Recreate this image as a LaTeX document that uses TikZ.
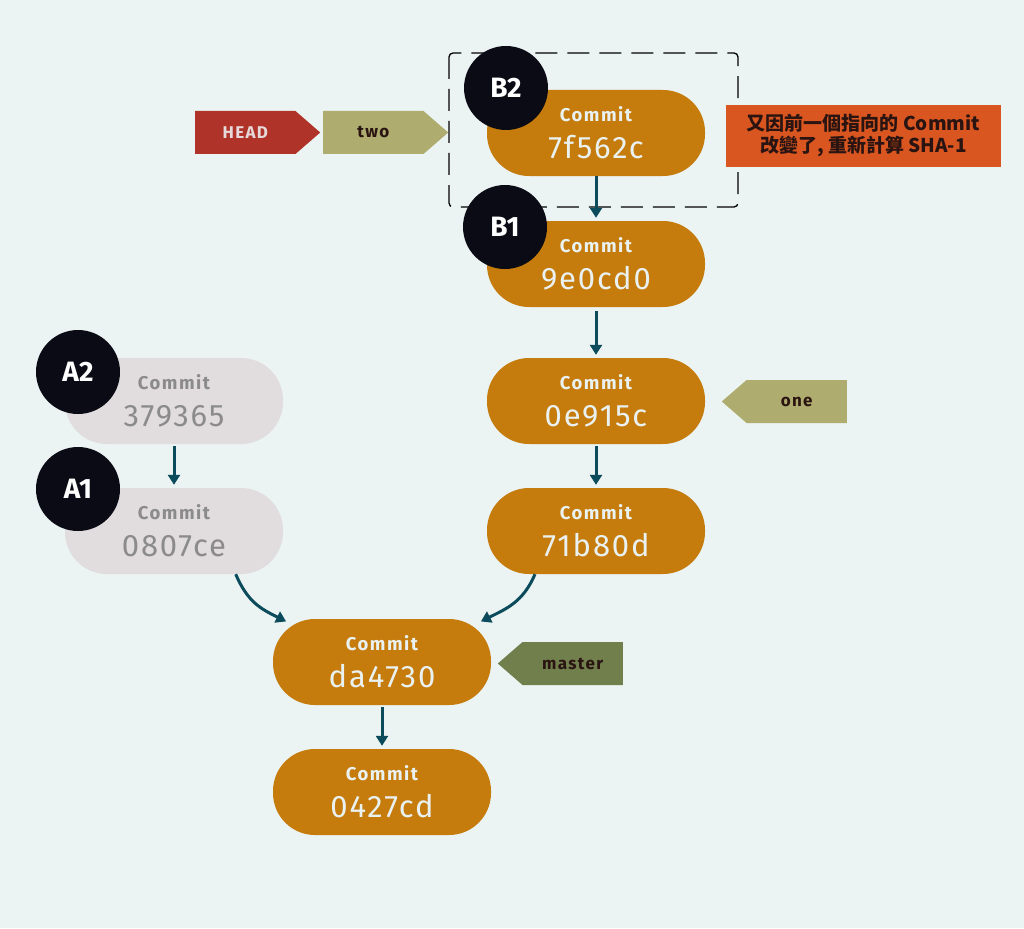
\documentclass[tikz,border=0pt]{standalone}
\usepackage{fontspec}
\setmainfont{Fira Sans}
\newfontfamily\cjk{Noto Sans CJK TC}
\newfontfamily\spaced[LetterSpace=8]{Fira Sans}
\newfontfamily\hashfamily[LetterSpace=6]{Fira Sans}
\usepackage{tikz}
\usetikzlibrary{positioning,shapes.symbols,arrows.meta}
\definecolor{PaperBg}{HTML}{EBF4F3}
\definecolor{CommitOrange}{HTML}{C57C0D}
\definecolor{CommitText}{HTML}{EAF1F1}
\definecolor{GhostFill}{HTML}{E1DCDE}
\definecolor{GhostText}{HTML}{8B8B8B}
\definecolor{BadgeBlack}{HTML}{0A0B14}
\definecolor{LinkTeal}{HTML}{0B4B5B}
\definecolor{HeadRed}{HTML}{B0332A}
\definecolor{HeadText}{HTML}{E6D9D9}
\definecolor{BranchOlive}{HTML}{AEAC6E}
\definecolor{MasterGreen}{HTML}{717F4D}
\definecolor{NoteOrange}{HTML}{D95621}
\definecolor{InkBrown}{HTML}{2A1411}
\newcommand{\commitline}[1]{{\spaced\bfseries\fontsize{18.5}{37}\selectfont Commit}\\{\hashfamily\fontsize{31}{37}\selectfont #1}}

\begin{document}
\begin{tikzpicture}[x=1pt, y=-1pt,
    commit/.style={rectangle, rounded corners=42pt, fill=CommitOrange, text=CommitText,
      minimum width=218pt, minimum height=86pt, inner sep=0pt, align=center, font=\fontsize{18.5}{37}\selectfont},
    ghost/.style={commit, fill=GhostFill, text=GhostText},
    badge/.style={circle, fill=BadgeBlack, text=white, minimum size=84pt, inner sep=0pt,
      font=\bfseries\fontsize{28}{28}\selectfont},
    tag/.style={signal, signal from=nowhere, signal pointer angle=82, minimum height=43pt,
      minimum width=125pt, inner sep=0pt, text=InkBrown, font=\spaced\bfseries\fontsize{17}{17}\selectfont},
    link/.style={-{Triangle[width=12pt,length=10pt]}, line width=3pt, draw=LinkTeal, shorten >=3pt},
    framebox/.style={line width=1.3pt, black, rounded corners=4pt, dash pattern=on 22pt off 10pt}]
    \fill[PaperBg] (0,0) rectangle (1024,928);
    \useasboundingbox (0,0) rectangle (1024,928);
    \draw[framebox] (449,53) rectangle (738,207);
    \node[commit] (c7f5) at (596,133) {\commitline{7f562c}};
    \node[commit] (c9e0) at (596,264) {\commitline{9e0cd0}};
    \node[commit] (c0e9) at (596,401) {\commitline{0e915c}};
    \node[commit] (c71b) at (596,531) {\commitline{71b80d}};
    \node[commit] (cda4) at (382,662) {\commitline{da4730}};
    \node[commit] (c042) at (382,792) {\commitline{0427cd}};
    \node[ghost] (c379) at (174,401) {\commitline{379365}};
    \node[ghost] (c080) at (174,531) {\commitline{0807ce}};
    \node[badge] (b2) at (506,88) {B2};
    \node[badge] (b1) at (505,227) {B1};
    \node[badge] (a2) at (78,372) {A2};
    \node[badge] (a1) at (78,489) {A1};
    \node[tag, fill=HeadRed, text=HeadText, signal to=east, anchor=west] (head) at (195,132.5) {HEAD};
    \node[tag, fill=BranchOlive, signal to=east, anchor=west] (two) at (323,132.5) {two};
    \node[tag, fill=BranchOlive, signal to=west, anchor=east] (one) at (847,401.5) {one};
    \node[tag, fill=MasterGreen, signal to=west, anchor=east] (master) at (623,663.5) {master};
    \node[rectangle, fill=NoteOrange, text=InkBrown, minimum width=275pt, minimum height=62pt, inner sep=0pt,
      align=center, font=\cjk\bfseries\fontsize{19}{22}\selectfont] (note) at (863.5,136)
      {又因前一個指向的 Commit\\改變了, 重新計算 SHA-1};
    \draw[link] (c7f5) -- (c9e0);
    \draw[link, shorten <=4pt] (c9e0) -- (c0e9);
    \draw[link, shorten <=2pt] (c0e9) -- (c71b);
    \draw[link, shorten <=2pt] (c379) -- (c080);
    \draw[link, shorten <=2pt] (cda4) -- (c042);
    \draw[link] (c080.-35) .. controls +(12,28) and +(-28,-14) .. ([shift={(16,4)}]cda4.north west);
    \draw[link] ([xshift=-61pt]c71b.south) .. controls +(-12,28) and +(28,-14) .. ([shift={(-13,4)}]cda4.north east);
\end{tikzpicture}
\end{document}
